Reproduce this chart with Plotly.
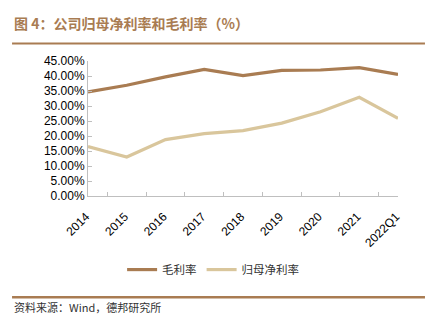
import plotly.graph_objects as go

years = ["2014", "2015", "2016", "2017", "2018", "2019", "2020", "2021", "2022Q1"]
gross_margin = [34.7, 36.9, 39.7, 42.2, 40.1, 41.9, 42.0, 42.8, 40.5]
net_margin = [16.5, 13.0, 18.8, 20.8, 21.8, 24.3, 28.1, 32.9, 25.9]
y_ticks = [0, 5, 10, 15, 20, 25, 30, 35, 40, 45]
y_tick_text = [f"{v:.2f}%" for v in y_ticks]

brown = "#a97c52"
sand = "#d9c69c"
axis_grey = "#bfbfbf"
cjk = "Noto Sans CJK SC"

fig = go.Figure()
fig.add_trace(go.Scatter(x=years, y=gross_margin, mode="lines", name="毛利率",
                         line=dict(color=brown, width=3.2)))
fig.add_trace(go.Scatter(x=years, y=net_margin, mode="lines", name="归母净利率",
                         line=dict(color=sand, width=3.2)))

fig.update_layout(
    width=439, height=329,
    margin=dict(l=88, r=41, t=61, b=133),
    paper_bgcolor="white", plot_bgcolor="white",
    font=dict(family="Liberation Sans, Arial", size=12, color="#000000"),
    showlegend=True,
    legend=dict(orientation="h", x=0.11, xanchor="left", y=-0.545, yanchor="middle",
                font=dict(family=cjk, size=11.5, color="#333333"),
                itemwidth=30, tracegroupgap=0, bgcolor="rgba(0,0,0,0)"),
    xaxis=dict(type="category", showline=True, linecolor=axis_grey, linewidth=1,
               ticks="inside", tickson="boundaries", ticklen=4, tickcolor=axis_grey,
               tickangle=-45, showgrid=False, zeroline=False,
               ticklabelstandoff=8, ticklabelshift=-2,
               tickfont=dict(size=12)),
    yaxis=dict(range=[0, 45], tickvals=y_ticks, ticktext=y_tick_text,
               showline=True, linecolor=axis_grey, linewidth=1,
               ticks="inside", ticklen=4, tickcolor=axis_grey,
               showgrid=False, zeroline=False, tickfont=dict(size=12)),
    annotations=[
        dict(text="<b>图 4：公司归母净利率和毛利率（%）</b>", xref="paper", yref="paper",
             x=-0.245, y=1.283, xanchor="left", yanchor="middle", showarrow=False,
             font=dict(family=cjk, size=14, color="#a97c52")),
        dict(text="资料来源：Wind，德邦研究所", xref="paper", yref="paper",
             x=-0.245, y=-0.825, xanchor="left", yanchor="middle", showarrow=False,
             font=dict(family=cjk, size=11, color="#333333")),
    ],
    shapes=[
        dict(type="line", xref="paper", yref="paper", x0=-0.245, x1=1.087,
             y0=1.13, y1=1.13, line=dict(color="#a97c52", width=2)),
        dict(type="line", xref="paper", yref="paper", x0=-0.245, x1=1.087,
             y0=-0.75, y1=-0.75, line=dict(color="#a97c52", width=2.5)),
    ],
)

fig.write_html("out.html")
